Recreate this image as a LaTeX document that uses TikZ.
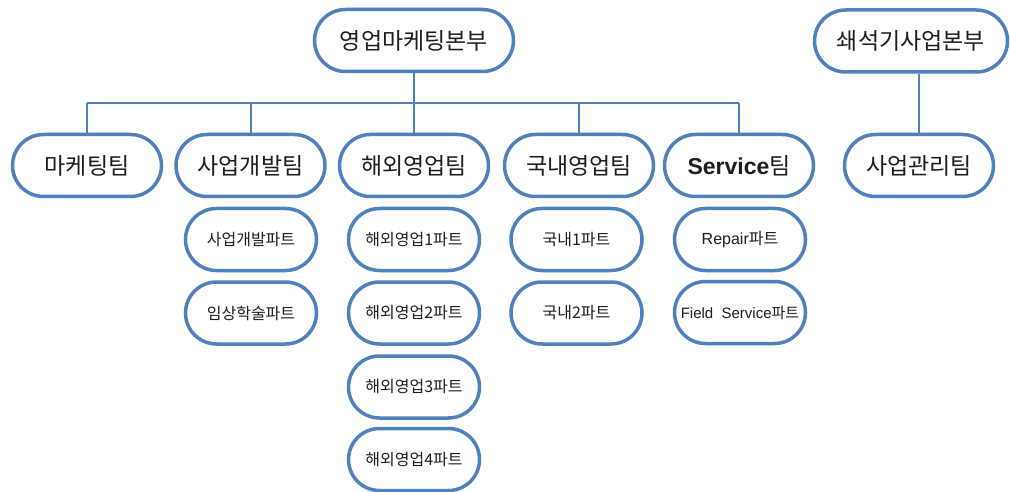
\documentclass[tikz,border=0pt]{standalone}
\usepackage{fontspec}
\setmainfont{Noto Sans CJK KR}
\newfontfamily\latinfont{Liberation Sans}
\usetikzlibrary{shapes.misc}
\definecolor{boxblue}{RGB}{79,129,189}
\definecolor{txt}{RGB}{30,30,30}
\tikzset{
  pill/.style={rounded rectangle, draw=boxblue, line width=3.5pt, fill=white, inner sep=0pt, text=txt},
  bigpill/.style={pill, minimum width=149pt, minimum height=62pt, font=\fontsize{23}{26}\selectfont},
  smallpill/.style={pill, minimum width=131pt, minimum height=62pt, font=\fontsize{16}{19}\selectfont},
  conn/.style={draw=boxblue, line width=2pt}
}
\begin{document}
\begin{tikzpicture}[x=1pt,y=-1pt]
\useasboundingbox[fill=white] (0,0) rectangle (1010,492);
\coordinate (busL) at (87,103);
\coordinate (busR) at (739,103);
\coordinate (busM) at (414,103);
% top level
\node[bigpill, minimum width=199pt] (hq1) at (414,40.5) {영업마케팅본부};
\node[bigpill, minimum width=193pt] (hq2) at (911,41) {쇄석기사업본부};
% level 2
\node[bigpill] (t1) at (87,165.5) {마케팅팀};
\node[bigpill] (t2) at (250.5,165.5) {사업개발팀};
\node[bigpill] (t3) at (414,165.5) {해외영업팀};
\node[bigpill] (t4) at (579,165.5) {국내영업팀};
\node[bigpill] (t5) at (739,165.5) {{\latinfont\bfseries Service}팀};
\node[bigpill] (t6) at (919,165.5) {사업관리팀};
% level 3
\node[smallpill] (p11) at (251,239.5) {사업개발파트};
\node[smallpill] (p12) at (251,313) {임상학술파트};
\node[smallpill] (p21) at (414,239.5) {해외영업1파트};
\node[smallpill] (p22) at (414,313) {해외영업2파트};
\node[smallpill] (p23) at (414,387) {해외영업3파트};
\node[smallpill] (p24) at (414,459.5) {해외영업4파트};
\node[smallpill] (p31) at (576.5,239.5) {국내1파트};
\node[smallpill] (p32) at (576.5,313) {국내2파트};
\node[smallpill] (p41) at (740,239.5) {{\latinfont Repair}파트};
\node[smallpill, font=\fontsize{15}{18}\selectfont] (p42) at (740,312.5) {{\latinfont Field\ \ Service}파트};
% connectors
\draw[conn] (hq1.south) -- (busM);
\draw[conn] (busL) -- (busR);
\draw[conn] (busM) -- (t3.north);
\draw[conn] (busL) -- (t1.north);
\draw[conn] (t2.north |- busL) -- (t2.north);
\draw[conn] (t4.north |- busL) -- (t4.north);
\draw[conn] (busR) -- (t5.north);
\draw[conn] (t6.north |- hq2.south) -- (t6.north);
\end{tikzpicture}
\end{document}
